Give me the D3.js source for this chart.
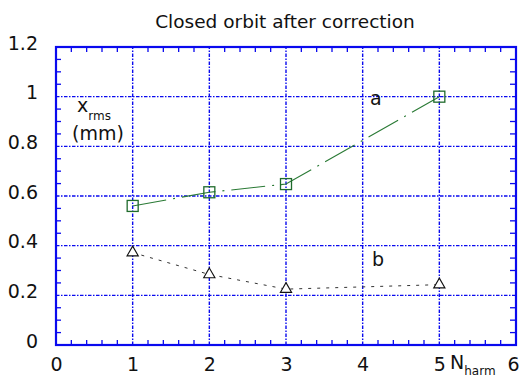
<!DOCTYPE html>
<html>
<head>
<meta charset="utf-8">
<script src="https://cdn.jsdelivr.net/npm/d3@7"></script>
<style>
  body { margin: 0; background: #fff; }
  text { font-family: "DejaVu Sans", sans-serif; fill: #111; }
</style>
</head>
<body>
<svg width="520" height="379"></svg>
<script>
"use strict";

const title = "Closed orbit after correction";
const harmA = [1, 2, 3, 5];
const rmsA = [0.56, 0.615, 0.648, 1.0];
const harmB = [1, 2, 3, 5];
const rmsB = [0.372, 0.284, 0.225, 0.243];
const xTicks = [0, 1, 2, 3, 4, 5, 6];
const yTicks = [0, 0.2, 0.4, 0.6, 0.8, 1, 1.2];

const svg = d3.select("svg");
const margin = { left: 56, right: 4, top: 47, bottom: 34 };
const W = 520, H = 379;
const fs = 19;

const x = d3.scaleLinear().domain([0, 6]).range([margin.left, W - margin.right]);
const y = d3.scaleLinear().domain([0, 1.2]).range([H - margin.bottom, margin.top]);

const blue = "#0a0aee";

// grid
const grid = svg.append("g").attr("stroke", blue).attr("stroke-width", 1.4)
  .attr("stroke-dasharray", "3.5,1.5,1.5,1.5");
grid.selectAll(".gx").data(xTicks.slice(1, -1)).enter().append("line")
  .attr("x1", d => x(d)).attr("x2", d => x(d))
  .attr("y1", y(0)).attr("y2", y(1.2));
grid.selectAll(".gy").data(yTicks.slice(1, -1)).enter().append("line")
  .attr("y1", d => y(d)).attr("y2", d => y(d))
  .attr("x1", x(0)).attr("x2", x(6));

// minor ticks, inward on all sides
const minorX = d3.range(0, 6.001, 0.2).filter(v => Math.abs(v - Math.round(v)) > 1e-6);
const minorY = d3.range(0, 1.2001, 0.05).filter(v => Math.abs(v / 0.2 - Math.round(v / 0.2)) > 1e-6);
const ticks = svg.append("g").attr("stroke", blue).attr("stroke-width", 1.3);
minorX.forEach(v => {
  ticks.append("line").attr("x1", x(v)).attr("x2", x(v)).attr("y1", y(0)).attr("y2", y(0) - 5);
  ticks.append("line").attr("x1", x(v)).attr("x2", x(v)).attr("y1", y(1.2)).attr("y2", y(1.2) + 5);
});
minorY.forEach(v => {
  ticks.append("line").attr("y1", y(v)).attr("y2", y(v)).attr("x1", x(0)).attr("x2", x(0) + 5);
  ticks.append("line").attr("y1", y(v)).attr("y2", y(v)).attr("x1", x(6)).attr("x2", x(6) - 6);
});

// frame
svg.append("rect")
  .attr("x", x(0)).attr("y", y(1.2))
  .attr("width", x(6) - x(0)).attr("height", y(0) - y(1.2))
  .attr("fill", "none").attr("stroke", blue).attr("stroke-width", 2.2);

// axes labels
const xAxis = d3.axisBottom(x).tickValues(xTicks).tickSize(0).tickPadding(13)
  .tickFormat(d3.format("d"));
svg.append("g").attr("transform", `translate(0,${y(0)})`).call(xAxis)
  .call(g => g.select(".domain").remove())
  .selectAll("text").attr("font-size", fs).attr("fill", "#111")
  .attr("dx", d => d === 6 ? -3 : 0)
  .style("font-family", "DejaVu Sans, sans-serif");

const yAxis = d3.axisLeft(y).tickValues(yTicks).tickSize(0).tickPadding(18)
  .tickFormat(d => d === 0 || d === 1 ? String(d) : d3.format(".1f")(d));
svg.append("g").attr("transform", `translate(${x(0)},0)`).call(yAxis)
  .call(g => g.select(".domain").remove())
  .selectAll("text").attr("font-size", fs).attr("fill", "#111").attr("dy", "0.12em")
  .style("font-family", "DejaVu Sans, sans-serif");

// series a
const lineA = d3.line().x((d, i) => x(harmA[i])).y(d => y(d));
svg.append("path").datum(rmsA).attr("d", lineA)
  .attr("fill", "none").attr("stroke", "#2a7a35").attr("stroke-width", 1.1)
  .attr("stroke-dasharray", "34,7,2,7");
svg.selectAll(".sqA").data(rmsA).enter().append("rect")
  .attr("x", (d, i) => x(harmA[i]) - 5.5).attr("y", d => y(d) - 5.5)
  .attr("width", 11).attr("height", 11)
  .attr("fill", "none").attr("stroke", "#1f6b2c").attr("stroke-width", 1.3);

// series b
const lineB = d3.line().x((d, i) => x(harmB[i])).y(d => y(d));
svg.append("path").datum(rmsB).attr("d", lineB)
  .attr("fill", "none").attr("stroke", "#333").attr("stroke-width", 1)
  .attr("stroke-dasharray", "3,6");
const tri = d3.symbol().type(d3.symbolTriangle).size(55);
svg.selectAll(".trB").data(rmsB).enter().append("path")
  .attr("d", tri)
  .attr("transform", (d, i) => `translate(${x(harmB[i])},${y(d)})`)
  .attr("fill", "#fff").attr("stroke", "#111").attr("stroke-width", 1.1);

// texts
svg.append("text").attr("x", 285).attr("y", 28).attr("text-anchor", "middle")
  .attr("font-size", 18.5).text(title);
svg.append("text").attr("x", 370).attr("y", 105).attr("font-size", fs).text("a");
svg.append("text").attr("x", 372).attr("y", 266).attr("font-size", fs).text("b");

const xl = svg.append("text").attr("x", 77).attr("y", 112).attr("font-size", fs);
xl.append("tspan").text("x");
xl.append("tspan").attr("dy", 8).attr("font-size", 12).text("rms");
svg.append("text").attr("x", 72).attr("y", 140).attr("font-size", fs).text("(mm)");

const nl = svg.append("text").attr("x", 450).attr("y", 369).attr("font-size", fs);
nl.append("tspan").text("N");
nl.append("tspan").attr("dy", 6).attr("font-size", 12).text("harm");
</script>
</body>
</html>
